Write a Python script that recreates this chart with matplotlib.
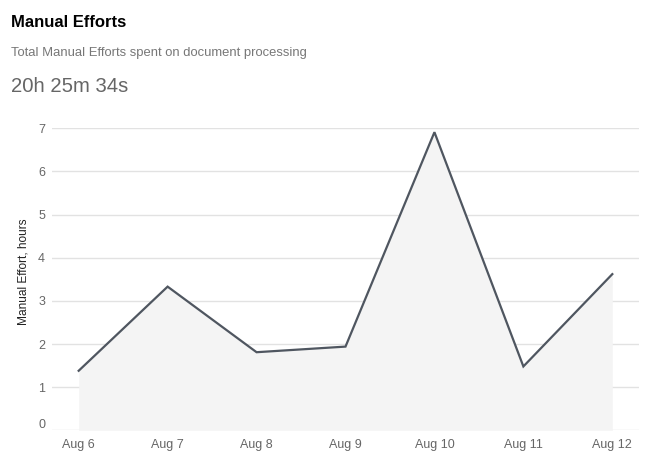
import matplotlib
matplotlib.use('Agg')
import matplotlib.pyplot as plt
from matplotlib.transforms import ScaledTranslation

# data
days = ['Aug 6', 'Aug 7', 'Aug 8', 'Aug 9', 'Aug 10', 'Aug 11', 'Aug 12']
hours = [1.38, 3.33, 1.81, 1.94, 6.91, 1.48, 3.62]
y_ticks = [0, 1, 2, 3, 4, 5, 6, 7]

plt.rcParams['font.family'] = ['Liberation Sans', 'DejaVu Sans']

fig = plt.figure(figsize=(6.59, 4.74), dpi=100)
ax = fig.add_axes([52 / 659, 1 - 430.3 / 474, (639 - 52) / 659, (430.3 - 128.3) / 474])

x = list(range(len(days)))
ax.fill_between(x, hours, 0, color='#f4f4f4', linewidth=0, zorder=1)
ax.plot(x, hours, color='#4f5660', linewidth=1.6, zorder=3, solid_joinstyle='miter')

ax.set_xlim(-0.3, 6.3)
ax.set_ylim(0, 7)
ax.set_yticks(y_ticks)
ax.set_xticks(x)
ax.set_xticklabels(days)
ax.grid(axis='y', color='#e2e2e2', linewidth=1, zorder=0)
ax.set_axisbelow(True)
for s in ax.spines.values():
    s.set_visible(False)
ax.tick_params(axis='both', length=0, labelsize=9, colors='#666666')
ax.tick_params(axis='x', pad=6)
ax.tick_params(axis='y', pad=5)

# lift the "0" label off the baseline like the original
zero_lbl = ax.get_yticklabels()[0]
zero_lbl.set_transform(zero_lbl.get_transform() + ScaledTranslation(0, 7 / 100, fig.dpi_scale_trans))

ax.set_ylabel('Manual Effort, hours', fontsize=8.6, color='#222222')
ax.yaxis.set_label_coords(-0.039, 0.524)

fig.text(11 / 659, 1 - 26.7 / 474, 'Manual Efforts', fontsize=12, fontweight='bold',
         color='#000000', va='baseline', ha='left')
fig.text(11 / 659, 1 - 56 / 474, 'Total Manual Efforts spent on document processing',
         fontsize=9.4, color='#777777', va='baseline', ha='left')
fig.text(11 / 659, 1 - 91.7 / 474, '20h 25m 34s', fontsize=14.6, color='#666666',
         va='baseline', ha='left')

fig.savefig('out.png', dpi=100)
